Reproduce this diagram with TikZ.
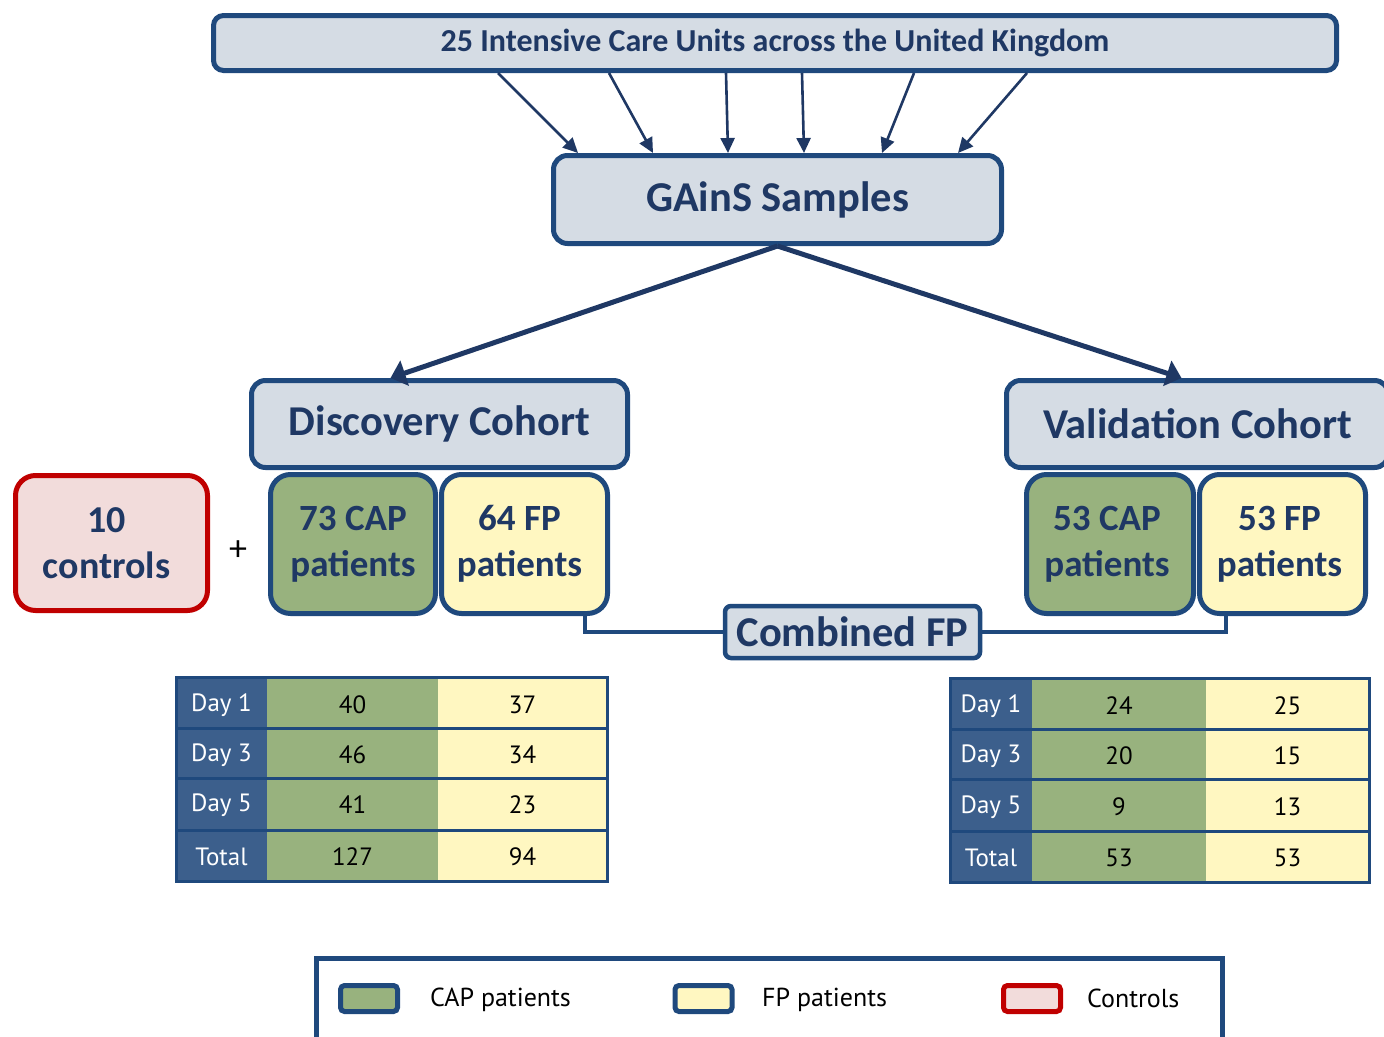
\documentclass[tikz,border=0pt]{standalone}
\usepackage{fontspec}
\setmainfont{Carlito}
\newfontfamily\tabfont{PT Sans}
\usetikzlibrary{arrows.meta,calc}
\definecolor{bord}{HTML}{1F497D}
\definecolor{navy}{HTML}{1F3864}
\definecolor{boxfill}{HTML}{D5DCE4}
\definecolor{capg}{HTML}{98B27E}
\definecolor{fpy}{HTML}{FFF7C1}
\definecolor{ctrlf}{HTML}{F2DCDB}
\definecolor{ctrlb}{HTML}{C00000}
\definecolor{labf}{HTML}{3C5F8C}
\begin{document}
\begin{tikzpicture}[x=1pt,y=-1pt,
  box/.style={draw=bord, line width=5pt, fill=boxfill, text=navy, rounded corners=10pt, inner sep=0pt},
  pat/.style={draw=bord, line width=5pt, rounded corners=20pt, text=navy, align=center, inner sep=0pt,
     minimum width=166pt, minimum height=139pt, font=\fontsize{37}{46}\selectfont\bfseries},
  tarr/.style={draw=navy, line width=2.6pt, -{Triangle[length=15pt,width=14pt]}},
  darr/.style={draw=navy, line width=5pt, -{Triangle[length=15pt,width=26pt]}},
  conn/.style={draw=bord, line width=4pt},
  tline/.style={draw=bord, line width=3pt},
  lab/.style={text=white, font=\tabfont\fontsize{25}{28}\selectfont, inner sep=0pt},
  num/.style={text=black, font=\tabfont\fontsize{25}{28}\selectfont, inner sep=0pt},
  swatch/.style={draw=bord, line width=5pt, rounded corners=4pt, minimum width=57pt, minimum height=26pt, inner sep=0pt},
  legt/.style={text=black, font=\tabfont\fontsize{26}{28}\selectfont, anchor=west, inner sep=0pt}
]
\useasboundingbox (0,0) rectangle (1384,1036);
\clip (0,0) rectangle (1384,1036);

% top boxes
\node[box, minimum width=1123pt, minimum height=55pt, font=\fontsize{32}{36}\selectfont\bfseries] (icu) at (775,43) {25 Intensive Care Units across the United Kingdom};
\node[box, rounded corners=14pt, minimum width=448pt, minimum height=88pt, font=\fontsize{42.5}{48}\selectfont\bfseries] (gains) at (777.5,199.5) {GAinS Samples};

% arrows top -> gains
\draw[tarr] ([xshift=-277pt]icu.south) -- ([xshift=-199.5pt]gains.north);
\draw[tarr] ([xshift=-166pt]icu.south) -- ([xshift=-124.5pt]gains.north);
\draw[tarr] ([xshift=-49pt]icu.south) -- ([xshift=-49.5pt]gains.north);
\draw[tarr] ([xshift=27pt]icu.south) -- ([xshift=26.5pt]gains.north);
\draw[tarr] ([xshift=139pt]icu.south) -- ([xshift=104.5pt]gains.north);
\draw[tarr] ([xshift=252pt]icu.south) -- ([xshift=180.5pt]gains.north);

% cohorts
\node[box, rounded corners=14pt, minimum width=376pt, minimum height=87pt, font=\fontsize{42.5}{48}\selectfont\bfseries] (disc) at (439.5,424) {Discovery Cohort};
\node[box, rounded corners=14pt, minimum width=382pt, minimum height=87pt, font=\fontsize{42.5}{48}\selectfont\bfseries] (vali) at (1197.5,424) {Validation Cohort};

\draw[darr] (gains.south) -- ([xshift=-49pt]disc.north);
\draw[darr] (gains.south) -- ([xshift=-16pt]vali.north);

% patient boxes
\node[pat, draw=ctrlb, fill=ctrlf, minimum width=192pt, minimum height=135pt, font=\fontsize{38}{46}\selectfont\bfseries] (ctrl) at (111.5,543) {10\hspace*{10pt}\\controls\hspace*{10pt}};
\node[text=black, font=\fontsize{36}{40}\selectfont, inner sep=0pt] (plus) at (238,551) {+};
\node[pat, fill=capg, minimum width=165pt] (capd) at (353,544) {73 CAP\\patients};
\node[pat, fill=fpy] (fpd) at (524.5,544) {64 FP\hspace*{10pt}\\patients\hspace*{10pt}};
\node[pat, fill=capg, minimum width=167pt] (capv) at (1110,544) {53 CAP\hspace*{6pt}\\patients\hspace*{6pt}};
\node[pat, fill=fpy] (fpv) at (1282.5,544) {53 FP\hspace*{6pt}\\patients\hspace*{6pt}};

% combined FP
\node[box, line width=4.5pt, rounded corners=6pt, minimum width=255pt, minimum height=52pt, font=\fontsize{42.5}{46}\selectfont\bfseries] (comb) at (852.5,632) {Combined FP};
\draw[conn] ([xshift=60pt]fpd.south) |- (comb.west);
\draw[conn] (comb.east) -| ([xshift=-57pt]fpv.south);

% left table
\fill[labf] (176,677) rectangle (267,881);
\fill[capg] (267,677) rectangle (438,881);
\fill[fpy] (438,677) rectangle (607,881);
\draw[tline] (176,728) -- (607,728);
\draw[tline] (176,778) -- (607,778);
\draw[tline] (176,830) -- (607,830);
\draw[tline] (176,677) rectangle (607,881);
\node[lab] (dl1) at (221.5,705) {Day 1};
\node[lab] (dl3) at (221.5,755) {Day 3};
\node[lab] (dl5) at (221.5,805) {Day 5};
\node[lab] (dlt) at (221.5,857) {Total};
\node[num] (dc1) at (352.5,705) {40};
\node[num] (dc3) at (352.5,755) {46};
\node[num] (dc5) at (352.5,805) {41};
\node[num] (dct) at (352.5,857) {127};
\node[num] (df1) at (522.5,705) {37};
\node[num] (df3) at (522.5,755) {34};
\node[num] (df5) at (522.5,805) {23};
\node[num] (dft) at (522.5,857) {94};

% right table
\fill[labf] (950,678) rectangle (1032,882);
\fill[capg] (1032,678) rectangle (1206,882);
\fill[fpy] (1206,678) rectangle (1369,882);
\draw[tline] (950,729) -- (1369,729);
\draw[tline] (950,779) -- (1369,779);
\draw[tline] (950,831) -- (1369,831);
\draw[tline] (950,678) rectangle (1369,882);
\node[lab] (vl1) at (991,706) {Day 1};
\node[lab] (vl3) at (991,756) {Day 3};
\node[lab] (vl5) at (991,807) {Day 5};
\node[lab] (vlt) at (991,858) {Total};
\node[num] (vc1) at (1119,706) {24};
\node[num] (vc3) at (1119,756) {20};
\node[num] (vc5) at (1119,807) {9};
\node[num] (vct) at (1119,858) {53};
\node[num] (vf1) at (1287.5,706) {25};
\node[num] (vf3) at (1287.5,756) {15};
\node[num] (vf5) at (1287.5,807) {13};
\node[num] (vft) at (1287.5,858) {53};

% legend
\draw[draw=bord, line width=5pt] (316,958) rectangle (1222,1060);
\node[swatch, fill=capg] (sw1) at (369,998.5) {};
\node[legt] (lt1) at (430,1000) {CAP patients};
\node[swatch, fill=fpy] (sw2) at (703.5,998.5) {};
\node[legt] (lt2) at (762,1000) {FP patients};
\node[swatch, draw=ctrlb, fill=ctrlf] (sw3) at (1032,998.5) {};
\node[legt] (lt3) at (1087,998) {Controls};
\end{tikzpicture}
\end{document}
